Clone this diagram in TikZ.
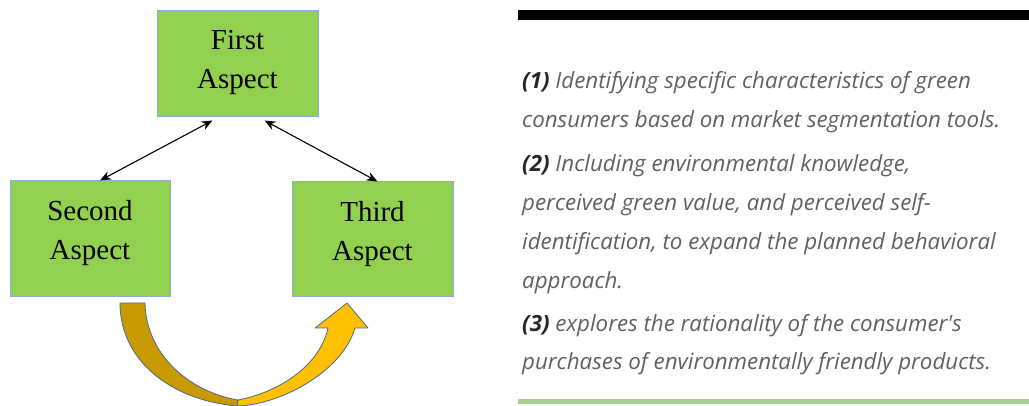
\documentclass[tikz,border=0pt]{standalone}
\usepackage{xcolor}
\usepackage{fontspec}
\usepackage{tikz}
\usetikzlibrary{positioning,arrows.meta,calc}
\newfontfamily\boxfont{Liberation Serif}
\newfontfamily\notefont{Open Sans}
\definecolor{boxgreen}{HTML}{92D050}
\definecolor{boxedge}{HTML}{8FAADC}
\definecolor{golddark}{HTML}{C99A00}
\definecolor{goldlight}{HTML}{FFC000}
\definecolor{goldedge}{HTML}{4A6A8C}
\definecolor{notegrey}{HTML}{606060}
\definecolor{rulegreen}{HTML}{A9D18E}

\begin{document}
\begin{tikzpicture}[x=1pt,y=-1pt,
    aspect/.style={draw=boxedge, line width=1pt, fill=boxgreen, align=center,
        font=\boxfont\fontsize{29}{39}\selectfont, inner sep=0pt},
    note/.style={anchor=base west, align=left, text=notegrey,
        font=\notefont\itshape\fontsize{22.3}{39}\selectfont, inner sep=0pt},
    link/.style={{Stealth[length=11pt,width=9pt]}-{Stealth[length=11pt,width=9pt]}, line width=1.1pt}]
    \useasboundingbox (0,0) rectangle (1029,406);

    % Define the aspects
    \node[aspect, minimum width=161pt, minimum height=106pt, text depth=10pt] (first) at (237.5,64) {First\\Aspect};
    \node[aspect, minimum width=160pt, minimum height=116pt, text depth=18pt] (second) at (90,239) {Second\\Aspect};
    \node[aspect, minimum width=161pt, minimum height=115pt, text depth=18pt] (third) at (372.5,239.5) {Third\\Aspect};

    % Links between aspects
    \draw[link] ([xshift=-25pt,yshift=-3pt]first.south) -- ([xshift=10pt]second.north);
    \draw[link] ([xshift=27pt,yshift=-3pt]first.south) -- ([xshift=5pt]third.north);

    % Curved arrow from second to third
    \coordinate (bottom) at (237,406);
    \coordinate (joint) at (238,400);
    \filldraw[fill=goldlight, draw=goldedge, line width=0.8pt, line join=round]
        (bottom) .. controls (280,405) and (342,372) .. (355,328)
        -- (368,328) -- (347,303) -- (315,328) -- (328,328)
        .. controls (320,365) and (280,392) .. (joint) -- cycle;
    \filldraw[fill=golddark, draw=goldedge, line width=0.8pt, line join=round]
        (120,303) .. controls (120,360) and (170,400) .. (bottom)
        -- (joint) .. controls (190,392) and (146,355) .. (145,303) -- cycle;

    % Rules of the note panel
    \fill[black] (518,10) rectangle (1029,20);
    \fill[rulegreen] (518,399) rectangle (1029,404);

    % Notes
    \node[note] (note1) at (522,128) {{\bfseries\color{black!85}(1)} Identifying specific characteristics of green\\consumers based on market segmentation tools.};
    \node[note] (note2) at (522,289) {{\bfseries\color{black!85}(2)} Including environmental knowledge,\\perceived green value, and perceived self-\\identification, to expand the planned behavioral\\approach.};
    \node[note] (note3) at (522,370) {{\bfseries\color{black!85}(3)} explores the rationality of the consumer's\\purchases of environmentally friendly products.};
\end{tikzpicture}
\end{document}
